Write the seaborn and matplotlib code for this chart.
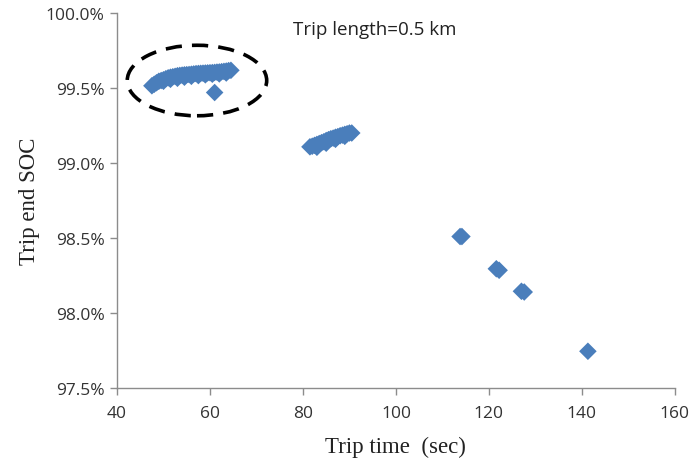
import matplotlib
matplotlib.use("Agg")
import matplotlib.pyplot as plt
from matplotlib.patches import Ellipse
from matplotlib.ticker import FuncFormatter
import seaborn as sns
import pandas as pd

# Trip time (sec) and trip end SOC (%)
trip_time = [
    47.5, 48.0, 48.5, 49.0, 49.5, 50.0, 50.5, 51.0, 51.5, 52.0, 52.5, 53.0,
    53.5, 54.0, 54.5, 55.0, 55.5, 56.0, 56.5, 57.0, 57.5, 58.0, 58.5, 59.0,
    59.5, 60.0, 60.5, 61.0, 61.5, 62.0, 62.5, 63.0, 63.5, 64.0, 64.5,
    50.0, 51.5, 53.0, 54.5, 56.0, 57.5, 59.0, 60.5, 62.0, 63.5,
    61.0,
    81.5, 82.0, 82.5, 83.0, 83.5, 84.0, 84.5, 85.0, 85.5, 86.0, 86.5, 87.0,
    87.5, 88.0, 88.5, 89.0, 89.5, 90.0, 90.5, 83.0, 85.0, 87.0, 89.0,
    113.8, 114.2,
    121.6, 122.2,
    127.0, 127.6,
    141.3,
]
trip_end_soc = [
    99.515, 99.525, 99.535, 99.545, 99.550, 99.555, 99.562, 99.568, 99.572, 99.575, 99.578, 99.582,
    99.584, 99.586, 99.588, 99.589, 99.590, 99.592, 99.594, 99.596, 99.597, 99.598, 99.599, 99.600,
    99.601, 99.602, 99.603, 99.604, 99.606, 99.607, 99.609, 99.611, 99.613, 99.616, 99.618,
    99.545, 99.558, 99.565, 99.572, 99.578, 99.583, 99.588, 99.592, 99.594, 99.600,
    99.470,
    99.108, 99.112, 99.118, 99.124, 99.130, 99.136, 99.142, 99.150, 99.156, 99.162, 99.166, 99.172,
    99.176, 99.182, 99.186, 99.191, 99.195, 99.200, 99.200, 99.105, 99.132, 99.158, 99.178,
    98.510, 98.510,
    98.295, 98.285,
    98.145, 98.140,
    97.745,
]

x_ticks = [40, 60, 80, 100, 120, 140, 160]
y_ticks = [97.5, 98.0, 98.5, 99.0, 99.5, 100.0]

df = pd.DataFrame({"t": trip_time, "soc": trip_end_soc})

sns.set_style("white")
plt.rcParams["font.family"] = ["Open Sans", "DejaVu Sans"]

fig = plt.figure(figsize=(6.9, 4.64), dpi=100)
ax = fig.add_axes([0.1696, 0.1616, 0.8084, 0.8082])

sns.scatterplot(data=df, x="t", y="soc", marker="D", s=80, color="#4A7EBB",
                edgecolor="none", linewidth=0, ax=ax, zorder=3)

ax.set_xlim(40, 160)
ax.set_ylim(97.5, 100.0)
ax.set_xticks(x_ticks)
ax.set_yticks(y_ticks)
ax.yaxis.set_major_formatter(FuncFormatter(lambda v, p: f"{v:.1f}%"))

for side in ["top", "right"]:
    ax.spines[side].set_visible(False)
for side in ["left", "bottom"]:
    ax.spines[side].set_color("#8c8c8c")
    ax.spines[side].set_linewidth(1.0)
ax.tick_params(axis="both", direction="out", length=5, width=1.0, color="#8c8c8c",
               labelsize=12.5, labelcolor="#333333", left=True, bottom=True)
ax.tick_params(axis="y", pad=4)
ax.tick_params(axis="x", pad=7)

ax.set_xlabel("Trip time  (sec)", family="Liberation Serif", fontsize=16.5, color="#222222", labelpad=11)
ax.set_ylabel("Trip end SOC", family="Liberation Serif", fontsize=16.5, color="#222222", labelpad=4)

ell = Ellipse((57.2, 99.55), width=30.0, height=0.47, fill=False, edgecolor="black",
              linewidth=2.6, linestyle=(0, (4.5, 2.8)), zorder=4, clip_on=False)
ax.add_patch(ell)

ax.text(77.8, 99.86, "Trip length=0.5 km", fontsize=13.5, color="#222222", va="baseline")

fig.savefig("out.png", dpi=100)
